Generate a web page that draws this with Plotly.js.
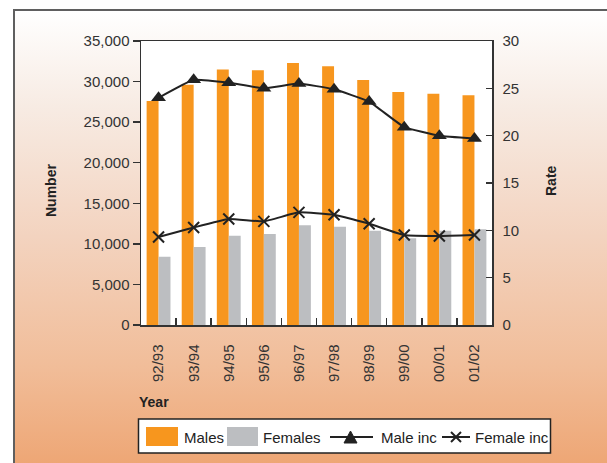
<!DOCTYPE html>
<html>
<head>
<meta charset="utf-8">
<script src="https://cdn.plot.ly/plotly-3.0.1.min.js"></script>
<style>
  html, body { margin: 0; padding: 0; background: #ffffff; }
  #wrap { position: relative; width: 607px; height: 463px; overflow: hidden; }
  #bg { position: absolute; left: 13px; top: 9px; width: 620px; height: 480px;
        border-left: 2px solid #5f5f5f; border-top: 2px solid #5f5f5f;
        background: linear-gradient(to bottom, #ffffff 0%, #f7ebe3 20%, #f3d3bf 47%, #f1bd99 74%, #eda06b 100%); }
  #chart { position: absolute; left: 0; top: 0; width: 607px; height: 463px; }
</style>
</head>
<body>
<div id="wrap">
  <div id="bg"></div>
  <div id="chart"></div>
</div>
<script>
const years = ["92/93", "93/94", "94/95", "95/96", "96/97", "97/98", "98/99", "99/00", "00/01", "01/02"];
const males = [27600, 29600, 31500, 31400, 32300, 31900, 30200, 28700, 28500, 28300];
const females = [8400, 9600, 11000, 11200, 12300, 12100, 11600, 10700, 11600, 11800];
const maleInc = [24.0, 25.9, 25.6, 25.0, 25.5, 24.9, 23.6, 20.9, 20.0, 19.7];
const femaleInc = [9.3, 10.3, 11.2, 10.95, 11.9, 11.65, 10.7, 9.5, 9.4, 9.5];
const seriesNames = ["Males", "Females", "Male inc", "Female inc"];

const FONT = "'Liberation Sans', Arial, sans-serif";
const INK = "#222222";
const ORANGE = "#F7961E";
const GREY = "#BCBEC1";

const traces = [
  { type: "bar", name: seriesNames[0], x: years, y: males, marker: { color: ORANGE } },
  { type: "bar", name: seriesNames[1], x: years, y: females, marker: { color: GREY } },
  { type: "scatter", mode: "lines+markers", name: seriesNames[2], x: years, y: maleInc, yaxis: "y2",
    line: { color: INK, width: 2, shape: "spline", smoothing: 0.3 },
    marker: { symbol: "triangle-up", size: 13, color: INK } },
  { type: "scatter", mode: "lines+markers", name: seriesNames[3], x: years, y: femaleInc, yaxis: "y2",
    line: { color: INK, width: 2, shape: "spline", smoothing: 0.3 },
    marker: { symbol: "x-thin-open", size: 11, color: INK, line: { color: INK, width: 2 } } }
];

const W = 607, H = 463, L = 141, R = 115, T = 41, B = 138;
const pw = W - L - R, ph = H - T - B;
const px = v => (v - L) / pw;
const py = v => (H - B - v) / ph;

// custom legend (box, swatches, symbols, labels) placed in pixel space
const shapes = [
  { type: "rect", xref: "paper", yref: "paper", x0: px(138.5), x1: px(550.5), y0: py(419), y1: py(453),
    fillcolor: "#ffffff", line: { color: INK, width: 1.5 } },
  { type: "rect", xref: "paper", yref: "paper", x0: px(146), x1: px(178), y0: py(427), y1: py(446),
    fillcolor: ORANGE, line: { width: 0 } },
  { type: "rect", xref: "paper", yref: "paper", x0: px(227), x1: px(258), y0: py(427), y1: py(446),
    fillcolor: GREY, line: { width: 0 } },
  { type: "line", xref: "paper", yref: "paper", x0: px(330), x1: px(373), y0: py(437), y1: py(437),
    line: { color: INK, width: 2 } },
  { type: "path", xref: "paper", yref: "paper",
    path: `M${px(344)},${py(443)} L${px(357)},${py(443)} L${px(350.5)},${py(431)} Z`,
    fillcolor: INK, line: { color: INK, width: 1 } },
  { type: "line", xref: "paper", yref: "paper", x0: px(442), x1: px(470), y0: py(437), y1: py(437),
    line: { color: INK, width: 2 } },
  { type: "line", xref: "paper", yref: "paper", x0: px(451), x1: px(461), y0: py(432), y1: py(442),
    line: { color: INK, width: 2 } },
  { type: "line", xref: "paper", yref: "paper", x0: px(451), x1: px(461), y0: py(442), y1: py(432),
    line: { color: INK, width: 2 } }
];

const legendText = (t, x) => ({ text: t, xref: "paper", yref: "paper", x: px(x), y: py(437.5),
  showarrow: false, xanchor: "left", yanchor: "middle", font: { family: FONT, size: 15, color: INK } });

const layout = {
  width: W, height: H,
  margin: { l: L, r: R, t: T, b: B, pad: 0, autoexpand: false },
  paper_bgcolor: "rgba(0,0,0,0)",
  plot_bgcolor: "#ffffff",
  font: { family: FONT, size: 15, color: "#333333" },
  barmode: "group", bargap: 0.32, bargroupgap: 0,
  showlegend: false,
  xaxis: {
    type: "category", range: [-0.5, years.length - 0.5],
    showline: true, linecolor: "#333333", linewidth: 1.5, mirror: true,
    ticks: "inside", tickson: "boundaries", ticklen: 7, tickcolor: "#333333", tickwidth: 1.5,
    tickangle: -90, ticklabelstandoff: 12, showgrid: false, zeroline: false, automargin: false,
    tickfont: { family: FONT, size: 15, color: "#333333" }
  },
  yaxis: {
    range: [0, 35000], dtick: 5000, tickformat: ",", showline: true, linecolor: "#333333", linewidth: 1.5,
    ticks: "outside", ticklen: 7, tickcolor: "#333333", tickwidth: 1.5, showgrid: false, zeroline: false,
    automargin: false, tickfont: { family: FONT, size: 15, color: "#333333" }
  },
  yaxis2: {
    range: [0, 30], dtick: 5, overlaying: "y", side: "right", showline: true, linecolor: "#333333", linewidth: 1.5,
    ticks: "inside", ticklen: 6, tickcolor: "#333333", tickwidth: 1.5, showgrid: false, zeroline: false,
    ticklabelstandoff: 6, automargin: false,
    tickfont: { family: FONT, size: 15, color: "#333333" }
  },
  shapes: shapes,
  annotations: [
    { text: "<b>Number</b>", xref: "paper", yref: "paper", x: px(51), y: py(191), textangle: -90,
      showarrow: false, xanchor: "center", yanchor: "middle", font: { family: FONT, size: 14, color: INK } },
    { text: "<b>Rate</b>", xref: "paper", yref: "paper", x: px(551), y: py(181), textangle: -90,
      showarrow: false, xanchor: "center", yanchor: "middle", font: { family: FONT, size: 14, color: INK } },
    { text: "<b>Year</b>", xref: "paper", yref: "paper", x: px(137), y: py(402), textangle: 0,
      showarrow: false, xanchor: "left", yanchor: "middle", font: { family: FONT, size: 14, color: INK } },
    legendText(seriesNames[0], 182),
    legendText(seriesNames[1], 261),
    legendText(seriesNames[2], 379),
    legendText(seriesNames[3], 473)
  ]
};

Plotly.newPlot("chart", traces, layout, { displayModeBar: false, staticPlot: true });
</script>
</body>
</html>
